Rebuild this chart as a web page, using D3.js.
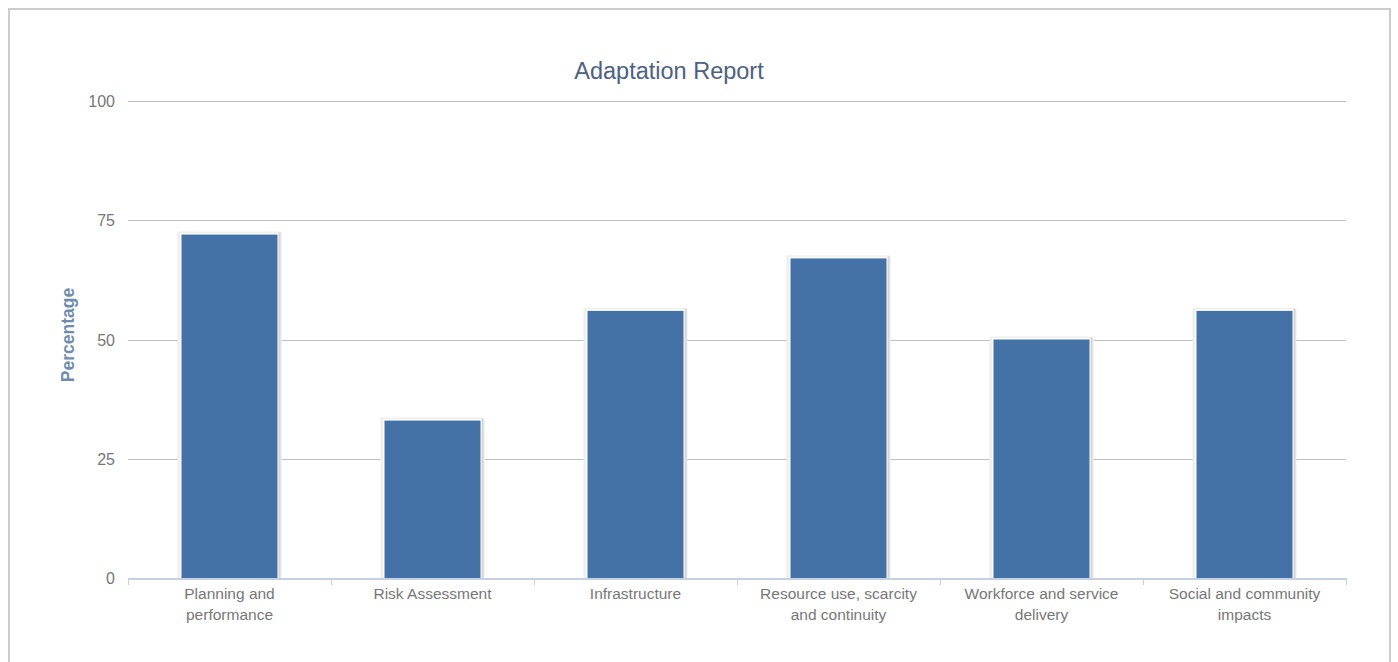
<!DOCTYPE html>
<html>
<head>
<meta charset="utf-8">
<script src="https://cdn.jsdelivr.net/npm/d3@7"></script>
<style>
  html, body { margin: 0; padding: 0; background: #fff; }
  svg { display: block; }
</style>
</head>
<body>
<svg id="chart" width="1398" height="662"></svg>
<script>
// Share of adaptation actions reported, by category (percent)
const categories = [
  ["Planning and", "performance"],
  ["Risk Assessment"],
  ["Infrastructure"],
  ["Resource use, scarcity", "and continuity"],
  ["Workforce and service", "delivery"],
  ["Social and community", "impacts"]
];
const values = [72, 33, 56, 67, 50, 56];
const yTicks = [0, 25, 50, 75, 100];

const svg = d3.select("#chart");
const plot = { left: 128, right: 1346, top: 101, bottom: 578 };
const font = "Liberation Sans, Arial, sans-serif";

// outer frame
svg.append("rect")
  .attr("x", 9).attr("y", 9)
  .attr("width", 1381).attr("height", 700)
  .attr("fill", "#fff").attr("stroke", "#cccccc").attr("stroke-width", 2);

const x = d3.scaleBand()
  .domain(d3.range(categories.length))
  .range([plot.left, plot.right])
  .paddingInner(0).paddingOuter(0);

const y = d3.scaleLinear().domain([0, 100]).range([plot.bottom, plot.top]);

// horizontal gridlines
svg.append("g")
  .selectAll("line")
  .data(yTicks.filter(d => d > 0))
  .join("line")
  .attr("x1", plot.left).attr("x2", plot.right)
  .attr("y1", d => Math.round(y(d)) + 0.5).attr("y2", d => Math.round(y(d)) + 0.5)
  .attr("stroke", "#c0c0c0").attr("stroke-width", 1);

// y tick labels
svg.append("g")
  .selectAll("text")
  .data(yTicks)
  .join("text")
  .attr("x", 115)
  .attr("y", d => y(d) + 6)
  .attr("text-anchor", "end")
  .attr("font-family", font)
  .attr("font-size", 16)
  .attr("fill", "#777")
  .text(d => d);

// bars
const barW = 96;
const bars = svg.append("g");
values.forEach((v, i) => {
  const cx = x(i) + x.bandwidth() / 2;
  const top = y(v);
  const x0 = cx - barW / 2;
  // soft shadow
  bars.append("rect")
    .attr("x", x0 - 4).attr("y", top - 3)
    .attr("width", barW + 8).attr("height", plot.bottom - top + 3)
    .attr("fill", "#eeeeee");
  bars.append("rect")
    .attr("x", x0 - 2).attr("y", top - 2)
    .attr("width", barW + 5).attr("height", plot.bottom - top + 2)
    .attr("fill", "#d6d6d6");
  // white outline
  bars.append("rect")
    .attr("x", x0 - 2).attr("y", top - 2)
    .attr("width", barW + 3).attr("height", plot.bottom - top + 2)
    .attr("fill", "#fdfdfd");
  bars.append("rect")
    .attr("x", x0).attr("y", top)
    .attr("width", barW).attr("height", plot.bottom - top)
    .attr("fill", "#4472a6");
});

// x axis line and ticks
const axis = svg.append("g");
axis.append("line")
  .attr("x1", plot.left).attr("x2", plot.right)
  .attr("y1", plot.bottom + 1).attr("y2", plot.bottom + 1)
  .attr("stroke", "#c3d1e3").attr("stroke-width", 2);
axis.selectAll("line.tick")
  .data(d3.range(categories.length + 1))
  .join("line")
  .attr("class", "tick")
  .attr("x1", i => Math.round(plot.left + i * x.bandwidth()) + 0.5)
  .attr("x2", i => Math.round(plot.left + i * x.bandwidth()) + 0.5)
  .attr("y1", plot.bottom).attr("y2", plot.bottom + 7)
  .attr("stroke", "#c3d1e3").attr("stroke-width", 1);

// category labels
const labels = svg.append("g");
categories.forEach((lines, i) => {
  const cx = x(i) + x.bandwidth() / 2;
  const t = labels.append("text")
    .attr("text-anchor", "middle")
    .attr("font-family", font)
    .attr("font-size", 15.5)
    .attr("fill", "#777");
  lines.forEach((ln, k) => {
    t.append("tspan").attr("x", cx).attr("y", 599 + k * 21).text(ln);
  });
});

// title
svg.append("text")
  .attr("x", 669).attr("y", 79)
  .attr("text-anchor", "middle")
  .attr("font-family", font)
  .attr("font-size", 23.5)
  .attr("fill", "#4d6180")
  .text("Adaptation Report");

// y axis title
svg.append("text")
  .attr("transform", "translate(74,335) rotate(-90)")
  .attr("text-anchor", "middle")
  .attr("font-family", font)
  .attr("font-size", 17.5)
  .attr("font-weight", "bold")
  .attr("fill", "#6f8bae")
  .text("Percentage");
</script>
</body>
</html>
